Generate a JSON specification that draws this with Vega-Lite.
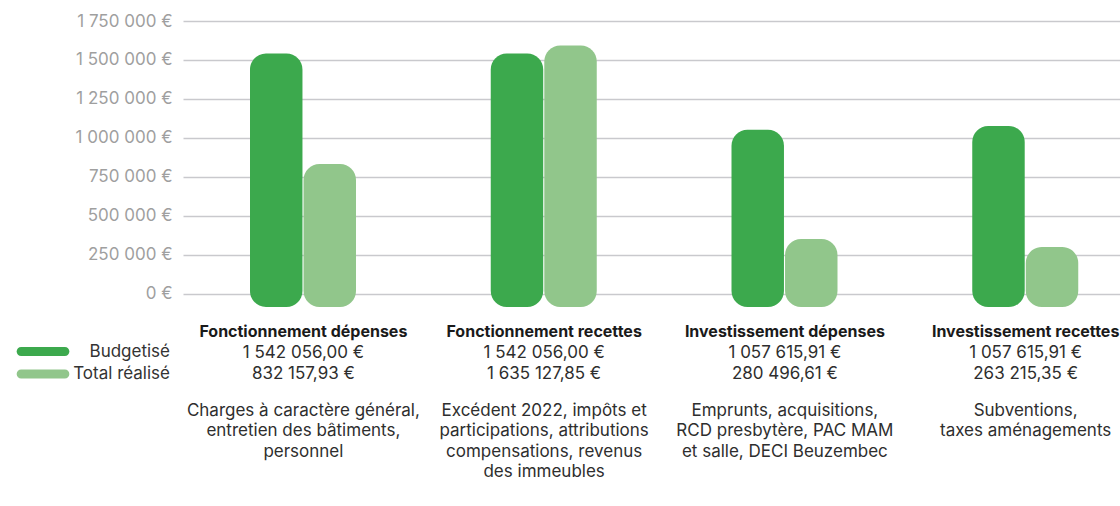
{
  "$schema": "https://vega.github.io/schema/vega-lite/v6.json",
  "autosize": {"type": "none"},
  "width": 937,
  "height": 272.5,
  "padding": {"left": 183, "top": 21, "right": 0, "bottom": 212.5},
  "config": {
    "view": {"stroke": null},
    "font": "Inter",
    "axis": {"domain": false, "ticks": false}
  },
  "datasets": {
    "bars": [
      {"cat": "Fonctionnement dépenses", "serie": "Budgetisé", "v": 1542056},
      {"cat": "Fonctionnement dépenses", "serie": "Total réalisé", "v": 832000},
      {"cat": "Fonctionnement recettes", "serie": "Budgetisé", "v": 1542056},
      {"cat": "Fonctionnement recettes", "serie": "Total réalisé", "v": 1592000},
      {"cat": "Investissement dépenses", "serie": "Budgetisé", "v": 1051000},
      {"cat": "Investissement dépenses", "serie": "Total réalisé", "v": 350000},
      {"cat": "Investissement recettes", "serie": "Budgetisé", "v": 1076000},
      {"cat": "Investissement recettes", "serie": "Total réalisé", "v": 299000}
    ],
    "labels": [
      {"cat": "Fonctionnement dépenses", "vals": ["1 542 056,00 €", "832 157,93 €"], "desc": ["Charges à caractère général,", "entretien des bâtiments,", "personnel"]},
      {"cat": "Fonctionnement recettes", "vals": ["1 542 056,00 €", "1 635 127,85 €"], "desc": ["Excédent 2022, impôts et", "participations, attributions", "compensations, revenus", "des immeubles"]},
      {"cat": "Investissement dépenses", "vals": ["1 057 615,91 €", "280 496,61 €"], "desc": ["Emprunts, acquisitions,", "RCD presbytère, PAC MAM", "et salle, DECI Beuzembec"]},
      {"cat": "Investissement recettes", "vals": ["1 057 615,91 €", "263 215,35 €"], "desc": ["Subventions,", "taxes aménagements"]}
    ]
  },
  "layer": [
    {
      "data": {"name": "bars"},
      "mark": {"type": "bar", "cornerRadius": 16},
      "encoding": {
        "x": {
          "field": "cat", "type": "nominal", "sort": null,
          "scale": {"range": [0, 963], "paddingInner": 0, "paddingOuter": 0},
          "axis": {"title": null, "labelAngle": 0, "labelFontSize": 16, "labelFontWeight": "bold", "labelColor": "#1a1a1a", "labelPadding": 30, "labelLimit": 400, "labelOverlap": false, "labelFlush": false, "grid": false}
        },
        "xOffset": {"field": "serie", "type": "nominal", "scale": {"range": [67, 173], "paddingOuter": 0, "paddingInner": 0.02}},
        "y": {
          "field": "v", "type": "quantitative",
          "scale": {"domain": [0, 1750000], "nice": false},
          "axis": {"title": null, "values": [0, 250000, 500000, 750000, 1000000, 1250000, 1500000, 1750000], "labelOverlap": false, "labelExpr": "replace(format(datum.value, ','), regexp(',', 'g'), ' ') + ' €'", "labelFontSize": 17, "labelColor": "#9f9f9f", "labelPadding": 11, "gridColor": "#c9c9cd", "gridWidth": 1.5}
        },
        "y2": {"datum": -86000},
        "color": {
          "field": "serie", "type": "nominal",
          "scale": {"domain": ["Budgetisé", "Total réalisé"], "range": ["#3ca94d", "#91c68b"]},
          "legend": {
            "title": null, "orient": "none", "legendX": -148.5, "legendY": 322,
            "symbolType": "M-4.37,-0.9L4.37,-0.9A0.9,0.9,0,0,1,4.37,0.9L-4.37,0.9A0.9,0.9,0,0,1,-4.37,-0.9Z",
            "symbolSize": 100, "symbolStrokeWidth": 0, "symbolOpacity": 1,
            "labelAlign": "right", "labelOffset": 118.5, "labelFontSize": 17, "labelColor": "#333333",
            "rowPadding": 4.5, "padding": 0
          }
        }
      }
    },
    {
      "data": {"name": "labels"},
      "mark": {"type": "text", "baseline": "top", "align": "center", "fontSize": 17, "lineHeight": 21, "color": "#2e2e2e"},
      "encoding": {
        "x": {"field": "cat", "type": "nominal", "sort": null},
        "y": {"datum": -329000, "type": "quantitative", "axis": {"title": null, "values": [0, 250000, 500000, 750000, 1000000, 1250000, 1500000, 1750000], "labelOverlap": false, "labelExpr": "replace(format(datum.value, ','), regexp(',', 'g'), ' ') + ' €'", "labelFontSize": 17, "labelColor": "#9f9f9f", "labelPadding": 11, "gridColor": "#c9c9cd", "gridWidth": 1.5}},
        "text": {"field": "vals"}
      }
    },
    {
      "data": {"name": "labels"},
      "mark": {"type": "text", "baseline": "top", "align": "center", "fontSize": 17, "lineHeight": 20.5, "color": "#2e2e2e"},
      "encoding": {
        "x": {"field": "cat", "type": "nominal", "sort": null},
        "y": {"datum": -701000, "type": "quantitative", "axis": {"title": null, "values": [0, 250000, 500000, 750000, 1000000, 1250000, 1500000, 1750000], "labelOverlap": false, "labelExpr": "replace(format(datum.value, ','), regexp(',', 'g'), ' ') + ' €'", "labelFontSize": 17, "labelColor": "#9f9f9f", "labelPadding": 11, "gridColor": "#c9c9cd", "gridWidth": 1.5}},
        "text": {"field": "desc"}
      }
    }
  ]
}
